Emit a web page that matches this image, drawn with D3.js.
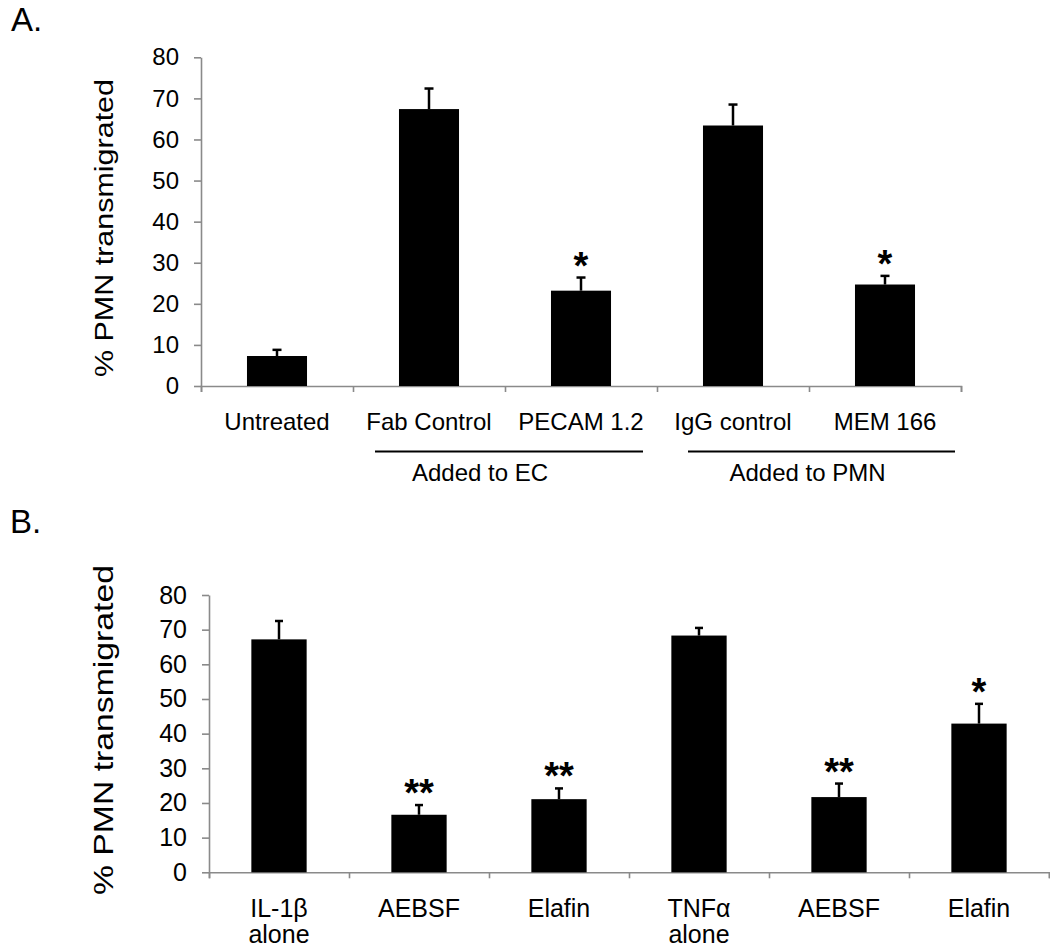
<!DOCTYPE html>
<html><head><meta charset="utf-8">
<script src="https://cdn.jsdelivr.net/npm/d3@7"></script>
<style>
body{margin:0;background:#fff;}
svg{display:block;font-family:"Liberation Sans",Arial,sans-serif;}
</style></head>
<body><svg id="c" width="1050" height="948"></svg>
<script>
// ---------- DATA ----------
const catsA = ["Untreated", "Fab Control", "PECAM 1.2", "IgG control", "MEM 166"];
const valuesA = [7.3, 67.4, 23.2, 63.4, 24.7];
const errorsA = [1.5, 5.0, 3.2, 5.1, 2.1];
const starsA = ["", "", "*", "", "*"];
const groupsA = [
  {label: "Added to EC", from: "Fab Control", to: "PECAM 1.2"},
  {label: "Added to PMN", from: "IgG control", to: "MEM 166"}
];

const catsB = ["IL-1β|alone", "AEBSF", "Elafin", "TNFα|alone", "AEBSF ", "Elafin "];
const valuesB = [67.2, 16.6, 21.1, 68.3, 21.7, 42.9];
const errorsB = [5.3, 2.8, 3.1, 2.2, 3.9, 5.7];
const starsB = ["", "**", "**", "", "**", "*"];

const yTicks = [0, 10, 20, 30, 40, 50, 60, 70, 80];
const yTitle = "% PMN transmigrated";

// ---------- LAYOUT ----------
const svg = d3.select("#c");
const AXIS = "#8a8a8a";

function panel(cfg) {
  const g = svg.append("g");
  const y = d3.scaleLinear().domain([0, 80]).range([cfg.y0, cfg.y80]);
  const x = d3.scaleBand().domain(cfg.cats).range([cfg.x0, cfg.x1])
    .paddingInner(0.605).paddingOuter(0.3025);
  const bw = x.bandwidth();
  const cx = d => x(d) + bw / 2;

  // y axis
  const ya = g.append("g").attr("transform", `translate(${cfg.x0},0)`)
    .call(d3.axisLeft(y).tickValues(yTicks).tickSize(7).tickSizeOuter(0).tickPadding(15));
  ya.selectAll("path,line").attr("stroke", AXIS).attr("stroke-width", 1.6);
  ya.selectAll("text").attr("font-size", cfg.tickFont).attr("fill", "#000")
    .attr("font-family", "Liberation Sans, Arial, sans-serif");

  // x axis: category boundary ticks
  const xi = d3.scaleLinear().domain([0, cfg.cats.length]).range([cfg.x0, cfg.x1]);
  const xa = g.append("g").attr("transform", `translate(0,${cfg.y0})`)
    .call(d3.axisBottom(xi).ticks(cfg.cats.length).tickFormat("").tickSize(6).tickSizeOuter(6));
  xa.selectAll("path,line").attr("stroke", AXIS).attr("stroke-width", 1.6);

  // bars
  g.selectAll("rect.bar").data(cfg.vals).join("rect")
    .attr("x", (d, i) => x(cfg.cats[i])).attr("width", bw)
    .attr("y", d => y(d)).attr("height", d => y(0) - y(d))
    .attr("fill", "#000");

  // error bars
  cfg.vals.forEach((v, i) => {
    const c = cx(cfg.cats[i]);
    const top = y(v + cfg.errs[i]);
    g.append("line").attr("x1", c).attr("x2", c).attr("y1", y(v)).attr("y2", top)
      .attr("stroke", "#000").attr("stroke-width", 2.5);
    g.append("line").attr("x1", c - cfg.cap / 2).attr("x2", c + cfg.cap / 2)
      .attr("y1", top).attr("y2", top).attr("stroke", "#000").attr("stroke-width", 2.5);
    if (cfg.stars[i]) {
      g.append("text").attr("x", c).attr("y", top + 1)
        .attr("text-anchor", "middle").attr("font-size", 38).attr("font-weight", "bold")
        .text(cfg.stars[i]);
    }
  });

  // category labels
  cfg.cats.forEach(c => {
    const lines = c.trim().split("|");
    lines.forEach((t, k) => {
      g.append("text").attr("x", cx(c)).attr("y", cfg.y0 + cfg.labelDy + k * 26)
        .attr("text-anchor", "middle").attr("font-size", cfg.labelFont).text(t);
    });
  });

  // y title
  g.append("text")
    .attr("transform", `translate(${cfg.titleX},${cfg.titleY}) rotate(-90)`)
    .attr("text-anchor", "middle").attr("font-size", cfg.titleFont)
    .attr("textLength", cfg.titleLen).attr("lengthAdjust", "spacingAndGlyphs")
    .text(yTitle);

  // panel letter
  g.append("text").attr("x", cfg.letterX).attr("y", cfg.letterY)
    .attr("font-size", 33).text(cfg.letter);

  return {g, x, y, cx, bw};
}

const A = panel({
  cats: catsA, vals: valuesA, errs: errorsA, stars: starsA,
  x0: 201, x1: 961, y0: 386, y80: 57.3, cap: 9,
  tickFont: 24, labelFont: 24, labelDy: 44,
  titleX: 113, titleY: 228, titleFont: 26, titleLen: 298,
  letter: "A.", letterX: 11, letterY: 31
});

// group annotations for panel A
const grpLayout = [
  {l: 22, r: -14, tx: -29},
  {l: 31, r: -6, tx: -14}
];
groupsA.forEach((gr, i) => {
  const step = A.x.step();
  const left = A.cx(gr.from) - step / 2 + grpLayout[i].l;
  const right = A.cx(gr.to) + step / 2 + grpLayout[i].r;
  A.g.append("line").attr("x1", left).attr("x2", right).attr("y1", 451.5).attr("y2", 451.5)
    .attr("stroke", "#000").attr("stroke-width", 2);
  A.g.append("text").attr("x", (left + right) / 2 + grpLayout[i].tx).attr("y", 481)
    .attr("text-anchor", "middle").attr("font-size", 24).text(gr.label);
});

const B = panel({
  cats: catsB, vals: valuesB, errs: errorsB, stars: starsB,
  x0: 209, x1: 1049, y0: 872.3, y80: 595, cap: 8,
  tickFont: 25, labelFont: 25, labelDy: 45,
  titleX: 113, titleY: 730, titleFont: 28, titleLen: 330,
  letter: "B.", letterX: 10, letterY: 533
});
</script></body></html>
